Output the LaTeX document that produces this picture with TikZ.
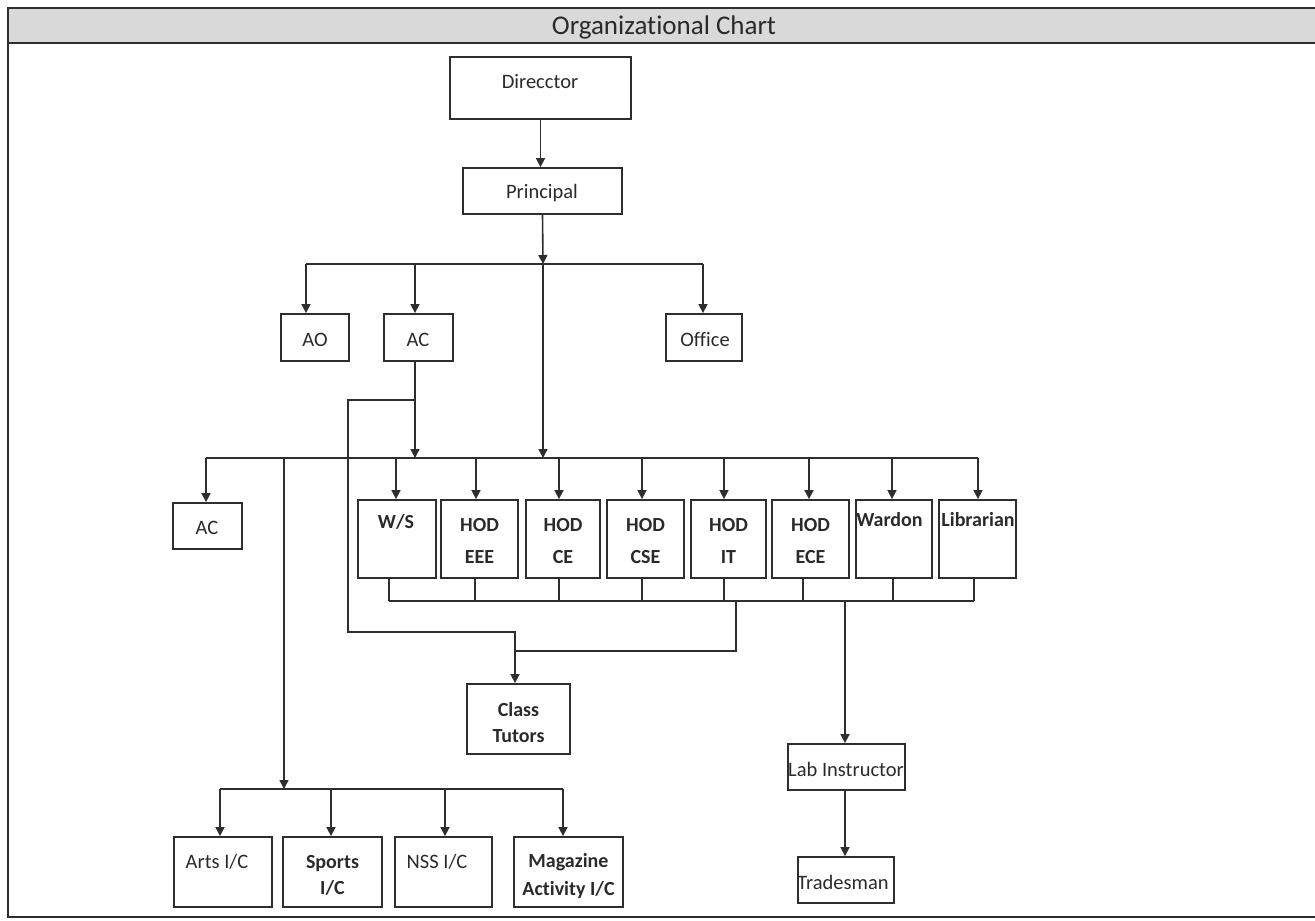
\documentclass[tikz,border=0pt]{standalone}
\usepackage{fontspec}
\setmainfont{Carlito}[Ligatures=NoCommon]
\usetikzlibrary{arrows.meta}
\definecolor{ln}{HTML}{2E2E2E}
\definecolor{tx}{HTML}{2A2A2A}
\definecolor{band}{HTML}{D9D9D9}
\begin{document}
\begin{tikzpicture}[x=1pt,y=-1pt,
  box/.style={draw=ln,line width=1.8pt,rectangle,inner sep=0pt},
  txt/.style={text=tx,inner sep=0pt,font=\fontsize{20.5}{24}\selectfont,align=center},
  btxt/.style={txt,font=\fontsize{20}{24}\selectfont\bfseries},
  con/.style={draw=ln,line width=1.6pt},
  arr/.style={con,-{Triangle[length=9pt,width=9pt]}}]
\useasboundingbox (0,0) rectangle (1315,921);
% frame
\fill[band] (8,8) rectangle (1315,43);
\draw[ln,line width=2.5pt] (1315,8) -- (8,8) -- (8,917) -- (1315,917);
\draw[ln,line width=2.5pt] (8,43) -- (1315,43);
\node[txt,font=\fontsize{27}{30}\selectfont] (title) at (664,27) {Organizational Chart};
% boxes
\node[box,minimum width=181pt,minimum height=62pt] (dir) at (540.5,88) {};
\node[box,minimum width=159pt,minimum height=46pt] (pr) at (542.5,191) {};
\node[box,minimum width=68pt,minimum height=47pt] (ao) at (315,337.5) {};
\node[box,minimum width=69pt,minimum height=47pt] (aca) at (418.5,337.5) {};
\node[box,minimum width=76pt,minimum height=47pt] (off) at (704,337.5) {};
\node[box,minimum width=69pt,minimum height=46pt] (acb) at (207.5,526) {};
\node[box,minimum width=78pt,minimum height=78pt] (ws) at (397,539) {};
\node[box,minimum width=77pt,minimum height=78pt] (eee) at (479.5,539) {};
\node[box,minimum width=74pt,minimum height=78pt] (ce) at (563,539) {};
\node[box,minimum width=77pt,minimum height=78pt] (cse) at (645.5,539) {};
\node[box,minimum width=75pt,minimum height=78pt] (it) at (728.5,539) {};
\node[box,minimum width=77pt,minimum height=78pt] (ece) at (810.5,539) {};
\node[box,minimum width=76pt,minimum height=78pt] (war) at (894,539) {};
\node[box,minimum width=77pt,minimum height=78pt] (lib) at (977.5,539) {};
\node[box,minimum width=103pt,minimum height=70pt] (ct) at (518.5,719) {};
\node[box,minimum width=117pt,minimum height=46pt] (lab) at (846.5,767) {};
\node[box,minimum width=96pt,minimum height=46pt] (tr) at (846,880) {};
\node[box,minimum width=98pt,minimum height=70pt] (arts) at (223,872) {};
\node[box,minimum width=99pt,minimum height=70pt] (sp) at (332.5,872) {};
\node[box,minimum width=97pt,minimum height=70pt] (nss) at (443.5,872) {};
\node[box,minimum width=109pt,minimum height=70pt] (mag) at (568.5,872) {};
% texts
\node[txt] (tdir) at (540,82) {Direcctor};
\node[txt] (tpr) at (542,193) {Principal};
\node[txt] (tao) at (315,340) {AO};
\node[txt] (taca) at (418,340) {AC};
\node[txt] (toff) at (705,340) {Office};
\node[txt] (tacb) at (207,528) {AC};
\node[btxt] (tws) at (396,522) {W/S};
\node[btxt,font=\fontsize{20}{32}\selectfont\bfseries] (teee) at (479.5,541) {HOD\\EEE};
\node[btxt,font=\fontsize{20}{32}\selectfont\bfseries] (tce) at (563,541) {HOD\\CE};
\node[btxt,font=\fontsize{20}{32}\selectfont\bfseries] (tcse) at (645.5,541) {HOD\\CSE};
\node[btxt,font=\fontsize{20}{32}\selectfont\bfseries] (tit) at (728.5,541) {HOD\\IT};
\node[btxt,font=\fontsize{20}{32}\selectfont\bfseries] (tece) at (810.5,541) {HOD\\ECE};
\node[btxt] (twar) at (889.5,520) {Wardon};
\node[btxt] (tlib) at (978,520) {Librarian};
\node[btxt,font=\fontsize{20}{26}\selectfont\bfseries] (tct) at (518.5,723) {Class\\Tutors};
\node[txt] (tlab) at (846,769) {Lab Instructor};
\node[txt] (ttr) at (843,882) {Tradesman};
\node[txt] (tarts) at (217,862) {Arts I/C};
\node[btxt,font=\fontsize{20}{26}\selectfont\bfseries] (tsp) at (332.5,875) {Sports\\I/C};
\node[txt] (tnss) at (437,862) {NSS I/C};
\node[btxt,font=\fontsize{20}{28}\selectfont\bfseries] (tmag) at (568.5,876) {Magazine\\Activity I/C};
% coordinates
\coordinate (b1) at (543,264);
\coordinate (b2) at (543,458);
\coordinate (b2ac) at (415,458);
\coordinate (acb1) at (415,400);
\coordinate (b3) at (736,601);
\coordinate (b4) at (284,789);
% connectors
\draw[arr] (dir.south) -- (dir.south |- pr.north);
\draw[arr] (pr.south) -- (b1);
\draw[con] (306,0 |- b1) -- (703,0 |- b1);
\draw[arr] (306,0 |- b1) -- (306,0 |- ao.north);
\draw[arr] (415,0 |- b1) -- (415,0 |- aca.north);
\draw[arr] (703,0 |- b1) -- (703,0 |- off.north);
\draw[arr] (b1) -- (b2);
\draw[arr] (415,0 |- aca.south) -- (b2ac);
\draw[con] (206,0 |- b2) -- (978,0 |- b2);
\draw[arr] (206,0 |- b2) -- (206,0 |- acb.north);
\draw[arr] (396,0 |- b2) -- (396,0 |- ws.north);
\draw[arr] (476,0 |- b2) -- (476,0 |- eee.north);
\draw[arr] (559,0 |- b2) -- (559,0 |- ce.north);
\draw[arr] (642,0 |- b2) -- (642,0 |- cse.north);
\draw[arr] (724,0 |- b2) -- (724,0 |- it.north);
\draw[arr] (809,0 |- b2) -- (809,0 |- ece.north);
\draw[arr] (892,0 |- b2) -- (892,0 |- war.north);
\draw[arr] (978,0 |- b2) -- (978,0 |- lib.north);
% AC branch to class tutors
\draw[arr] (acb1) -- (348,400) -- (348,632) -- (515,632) -- (515,0 |- ct.north);
% bottom bus
\draw[con] (389,0 |- b3) -- (974,0 |- b3);
\draw[con] (389,0 |- ws.south) -- (389,0 |- b3);
\draw[con] (475,0 |- eee.south) -- (475,0 |- b3);
\draw[con] (559,0 |- ce.south) -- (559,0 |- b3);
\draw[con] (642,0 |- cse.south) -- (642,0 |- b3);
\draw[con] (724,0 |- it.south) -- (724,0 |- b3);
\draw[con] (803,0 |- ece.south) -- (803,0 |- b3);
\draw[con] (893,0 |- war.south) -- (893,0 |- b3);
\draw[con] (974,0 |- lib.south) -- (974,0 |- b3);
\draw[con] (b3) -- (736,651) -- (515,651);
\draw[arr] (845,0 |- b3) -- (845,0 |- lab.north);
\draw[arr] (845,0 |- lab.south) -- (845,0 |- tr.north);
% activities
\draw[arr] (284,0 |- b2) -- (b4);
\draw[con] (220,0 |- b4) -- (563,0 |- b4);
\draw[arr] (220,0 |- b4) -- (220,0 |- arts.north);
\draw[arr] (331,0 |- b4) -- (331,0 |- sp.north);
\draw[arr] (445,0 |- b4) -- (445,0 |- nss.north);
\draw[arr] (563,0 |- b4) -- (563,0 |- mag.north);
\end{tikzpicture}
\end{document}
